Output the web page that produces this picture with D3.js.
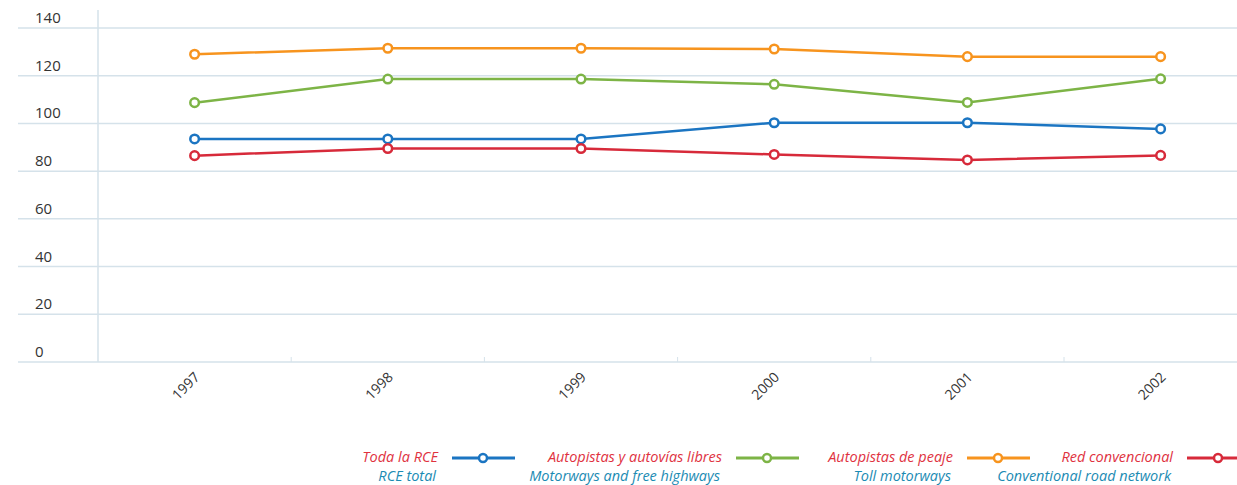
<!DOCTYPE html>
<html>
<head>
<meta charset="utf-8">
<script src="https://cdn.jsdelivr.net/npm/d3@7"></script>
<style>
  body { margin: 0; background: #fff; }
  svg { display: block; font-family: "Open Sans", "DejaVu Sans", sans-serif; }
  .ylab { font-size: 15px; fill: #333; }
  .xlab { font-size: 14px; fill: #333; }
  .leg { font-size: 14.5px; font-style: italic; }
</style>
</head>
<body>
<svg id="chart" width="1237" height="485"></svg>
<script>
// Data
const years = ["1997", "1998", "1999", "2000", "2001", "2002"];
const yTicks = [0, 20, 40, 60, 80, 100, 120, 140];

const rceTotal = [93.5, 93.5, 93.5, 100.3, 100.3, 97.7];
const autopistasLibres = [108.7, 118.6, 118.6, 116.4, 108.8, 118.7];
const autopistasPeaje = [129, 131.5, 131.5, 131.2, 128, 128];
const redConvencional = [86.5, 89.5, 89.5, 87, 84.7, 86.6];

const seriesNames = ["Toda la RCE", "Autopistas y autovías libres", "Autopistas de peaje", "Red convencional"];
const seriesNamesEn = ["RCE total", "Motorways and free highways", "Toll motorways", "Conventional road network"];
const seriesColors = ["#1b75c2", "#7db446", "#f7941e", "#d72a3a"];

const series = [rceTotal, autopistasLibres, autopistasPeaje, redConvencional].map((values, i) => ({
  name: seriesNames[i],
  nameEn: seriesNamesEn[i],
  color: seriesColors[i],
  values: values
}));

const svg = d3.select("#chart");
const gridColor = "#d5e2ea";

// Scales
const x = d3.scaleBand()
  .domain(years)
  .range([98, 98 + 6 * 193.2]);

const y = d3.scaleLinear()
  .domain([0, 140])
  .range([362, 28]);

// Horizontal gridlines
svg.append("g")
  .selectAll("line")
  .data(yTicks)
  .enter()
  .append("line")
  .attr("x1", 18)
  .attr("x2", 1237)
  .attr("y1", d => y(d))
  .attr("y2", d => y(d))
  .attr("stroke", gridColor)
  .attr("stroke-width", 1.5);

// Y labels sit above each gridline
svg.append("g")
  .selectAll("text")
  .data(yTicks)
  .enter()
  .append("text")
  .attr("class", "ylab")
  .attr("x", 35)
  .attr("y", d => y(d) - 5)
  .text(d => d);

// Vertical axis line
svg.append("line")
  .attr("x1", 98).attr("x2", 98)
  .attr("y1", 10).attr("y2", y(0))
  .attr("stroke", gridColor)
  .attr("stroke-width", 1.5);

// Small ticks between categories on the bottom axis
svg.append("g")
  .selectAll("line")
  .data(years.slice(1))
  .enter()
  .append("line")
  .attr("x1", d => x(d))
  .attr("x2", d => x(d))
  .attr("y1", y(0) - 5)
  .attr("y2", y(0))
  .attr("stroke", gridColor)
  .attr("stroke-width", 1);

// Rotated year labels
svg.append("g")
  .selectAll("text")
  .data(years)
  .enter()
  .append("text")
  .attr("class", "xlab")
  .attr("text-anchor", "end")
  .attr("transform", d => `translate(${x(d) + x.bandwidth() / 2 + 6}, ${y(0) + 16}) rotate(-45)`)
  .text(d => d);

// Lines and markers
const line = d3.line()
  .x((d, i) => x(years[i]) + x.bandwidth() / 2)
  .y(d => y(d));

const groups = svg.append("g")
  .selectAll("g")
  .data(series)
  .enter()
  .append("g");

groups.append("path")
  .attr("d", d => line(d.values))
  .attr("fill", "none")
  .attr("stroke", d => d.color)
  .attr("stroke-width", 2.5);

groups.each(function(s) {
  d3.select(this).selectAll("circle")
    .data(s.values)
    .enter()
    .append("circle")
    .attr("cx", (d, i) => x(years[i]) + x.bandwidth() / 2)
    .attr("cy", d => y(d))
    .attr("r", 4.3)
    .attr("fill", "#fff")
    .attr("stroke", s.color)
    .attr("stroke-width", 2.5);
});

// Legend at the bottom: bilingual label then a line sample with a marker
const legendTextEnd = [438, 722, 953, 1173];
const legend = svg.append("g")
  .selectAll("g")
  .data(series)
  .enter()
  .append("g")
  .attr("transform", (d, i) => `translate(${legendTextEnd[i]}, 0)`);

legend.append("text")
  .attr("class", "leg")
  .attr("text-anchor", "end")
  .attr("y", 462)
  .attr("fill", "#e0323f")
  .text(d => d.name);

legend.append("text")
  .attr("class", "leg")
  .attr("text-anchor", "end")
  .attr("y", 481)
  .attr("x", -2)
  .attr("fill", "#1b8bb3")
  .text(d => d.nameEn);

legend.append("line")
  .attr("x1", 14).attr("x2", 77)
  .attr("y1", 458).attr("y2", 458)
  .attr("stroke", d => d.color)
  .attr("stroke-width", 3);

legend.append("circle")
  .attr("cx", 45)
  .attr("cy", 458)
  .attr("r", 4)
  .attr("fill", "#fff")
  .attr("stroke", d => d.color)
  .attr("stroke-width", 2.5);
</script>
</body>
</html>
